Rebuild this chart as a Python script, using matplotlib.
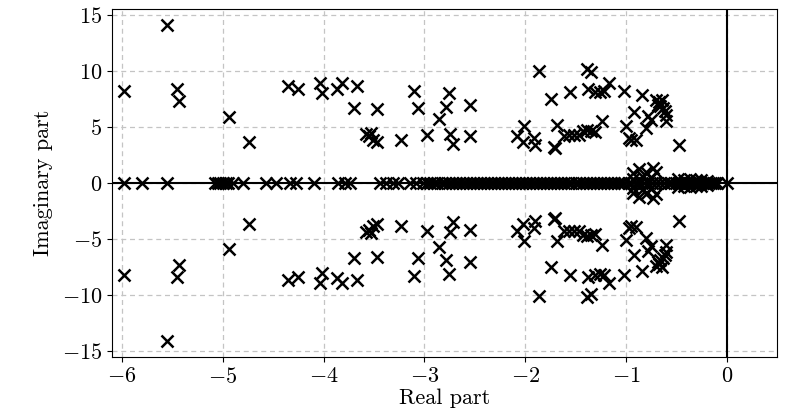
import numpy as np
import matplotlib
matplotlib.use("Agg")
import matplotlib.pyplot as plt

plt.rcParams["font.family"] = "serif"
plt.rcParams["font.serif"] = ["cmr10"]
plt.rcParams["mathtext.fontset"] = "cm"
plt.rcParams["axes.formatter.use_mathtext"] = True

# complex poles, upper half-plane (conjugates are drawn too)
cplx_re = [-5.55, -5.98, -5.45, -5.43, -4.94, -4.745, -4.35, -4.25, -4.04, -4.02,
           -3.87, -3.82, -3.67, -3.70, -3.475, -3.575, -3.525, -3.55, -3.51, -3.475,
           -3.23, -3.105, -3.06, -2.97, -2.857, -2.76, -2.79, -2.75, -2.715, -2.545,
           -2.55, -2.077, -2.01, -2.02, -1.91, -1.90, -1.86, -1.745, -1.705, -1.715,
           -1.685, -1.555, -1.61, -1.56, -1.52, -1.47, -1.43, -1.39, -1.345, -1.31,
           -1.235, -1.385, -1.345, -1.38, -1.305, -1.255, -1.215, -1.17, -1.02, -0.845,
           -0.70, -0.67, -0.64, -0.66, -0.63, -0.61, -0.60, -0.68, -0.915, -0.785,
           -0.75, -0.605, -0.995, -0.80, -0.97, -0.90, -0.945, -0.47,
           -0.93, -0.87, -0.80, -0.73, -0.70, -0.83, -0.93, -0.75,
           -0.48, -0.42, -0.36, -0.30, -0.25, -0.20]
cplx_im = [14.07, 8.19, 8.37, 7.33, 5.90, 3.68, 8.66, 8.37, 8.90, 8.04,
           8.43, 8.88, 8.66, 6.65, 6.56, 4.34, 4.43, 4.20, 3.83, 3.68,
           3.83, 8.25, 6.65, 4.27, 5.67, 8.06, 6.82, 4.39, 3.50, 7.00,
           4.19, 4.23, 5.13, 3.68, 4.02, 3.38, 10.03, 7.51, 3.12, 3.20,
           5.20, 8.16, 4.23, 4.25, 4.25, 4.30, 4.60, 4.72, 4.66, 4.55,
           5.56, 10.13, 9.87, 8.38, 8.15, 8.10, 8.20, 8.95, 8.20, 7.87,
           7.39, 7.20, 7.45, 6.85, 6.70, 6.40, 6.10, 7.00, 6.38, 6.02,
           5.61, 5.53, 5.08, 4.87, 3.98, 3.88, 3.83, 3.38,
           0.90, 1.25, 0.95, 1.35, 0.95, 0.50, 0.40, 0.45,
           0.35, 0.30, 0.35, 0.25, 0.30, 0.20]

# real poles
real_re = [-5.98, -5.80, -5.55, -5.08, -5.05, -5.03, -5.00, -4.97, -4.95, -4.90,
           -4.80, -4.57, -4.47, -4.335, -4.27, -4.10, -3.86, -3.79, -3.74, -3.44,
           -3.38, -3.31, -3.26, -3.145, -3.08,
           -3.01, -2.97, -2.94, -2.90, -2.87, -2.83, -2.80, -2.76, -2.73, -2.69,
           -2.66, -2.62, -2.59, -2.55, -2.52, -2.48, -2.45, -2.41, -2.38, -2.34,
           -2.31, -2.27, -2.24, -2.20, -2.17, -2.13, -2.10, -2.06, -2.03, -1.99,
           -1.96, -1.92, -1.89, -1.85, -1.82, -1.78, -1.75, -1.71, -1.68, -1.64,
           -1.61, -1.57, -1.54, -1.50, -1.47, -1.43, -1.40, -1.36, -1.33, -1.29,
           -1.26, -1.22, -1.19, -1.15, -1.12, -1.08, -1.05,
           -1.02, -0.97, -0.95, -0.90, -0.86, -0.82, -0.78, -0.74, -0.70, -0.66,
           -0.62, -0.58, -0.55,
           -0.50, -0.47, -0.45, -0.42, -0.40, -0.38, -0.36, -0.34, -0.32, -0.30,
           -0.28, -0.26, -0.24, -0.22, -0.20, -0.18, -0.16, -0.14, -0.12, -0.10,
           0.0]

re = np.concatenate([cplx_re, cplx_re, real_re])
im = np.concatenate([cplx_im, -np.array(cplx_im), np.zeros(len(real_re))])

fig = plt.figure(figsize=(7.97, 4.18), dpi=100)
ax = fig.add_axes([0.1405, 0.146, 0.8345, 0.832])
ax.grid(True, linestyle=(0, (4, 3)), color="#c4c4c4", linewidth=0.9)
ax.set_axisbelow(True)
ax.axhline(0, color="black", linewidth=1.5, zorder=2)
ax.axvline(0, color="black", linewidth=1.5, zorder=2)
ax.plot(re, im, "x", color="black", markersize=8, markeredgewidth=1.8, zorder=3)

ax.set_xlim(-6.1, 0.5)
ax.set_ylim(-15.5, 15.5)
ax.set_xticks([-6, -5, -4, -3, -2, -1, 0])
ax.set_yticks([-15, -10, -5, 0, 5, 10, 15])
ax.tick_params(labelsize=16)
ax.set_xlabel("Real part", fontsize=16, labelpad=1)
ax.set_ylabel("Imaginary part", fontsize=16, labelpad=6)

fig.savefig("out.png", dpi=100)
